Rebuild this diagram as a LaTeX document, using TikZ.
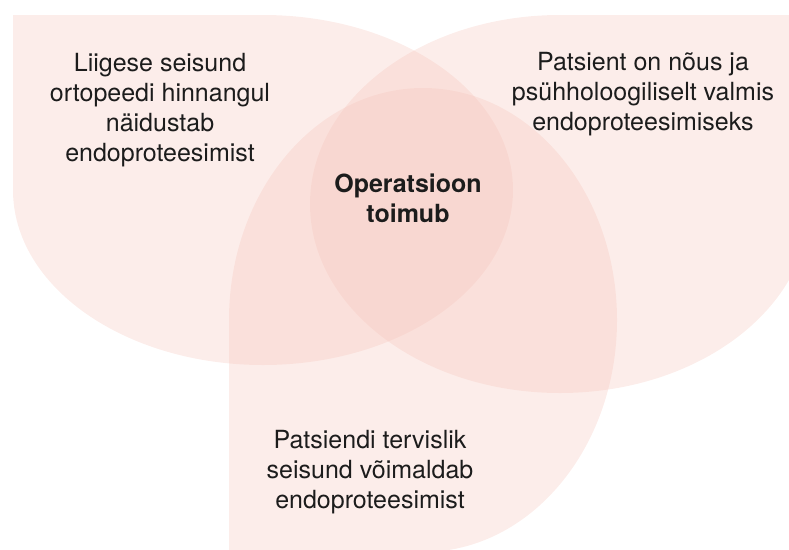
\documentclass[tikz,border=0pt]{standalone}
\usepackage{fontspec}
\setmainfont{TeX Gyre Heros}
\definecolor{petalpink}{RGB}{245,195,185}
\definecolor{ink}{RGB}{28,28,28}
\begin{document}
\begin{tikzpicture}[x=1pt,y=-1pt,
  petal/.style={fill=petalpink, fill opacity=0.3, draw=none},
  lbl/.style={font=\fontsize{25}{30}\selectfont, text=ink, align=center,
    anchor=base, inner sep=0pt},
  lblbold/.style={lbl, font=\fontsize{25}{30}\selectfont\bfseries}]
  \useasboundingbox (0,0) rectangle (789,549);
  \clip (0,0) rectangle (789,549);

  % three overlapping petals, each an ellipse with one square corner
  % joint condition (top left)
  \path[petal] (13,15) -- (263,15)
    arc[start angle=270, end angle=540, x radius=250, y radius=175] -- cycle;
  % patient readiness (top right)
  \path[petal] (810,15) -- (810,204)
    arc[start angle=0, end angle=270, x radius=250, y radius=189] -- cycle;
  % general health (bottom)
  \path[petal] (229,552) -- (229,320)
    arc[start angle=180, end angle=450, x radius=194, y radius=232] -- cycle;

  % labels (placed by the baseline of their last line)
  \node[lbl] (cond) at (160,161)
    {Liigese seisund\\ortopeedi hinnangul\\näidustab\\endoproteesimist};
  \node[lbl] (ready) at (643,130)
    {Patsient on nõus ja\\psühholoogiliselt valmis\\endoproteesimiseks};
  \node[lblbold] (op) at (408,222) {Operatsioon\\toimub};
  \node[lbl] (health) at (370,508)
    {Patsiendi tervislik\\seisund võimaldab\\endoproteesimist};
\end{tikzpicture}
\end{document}
